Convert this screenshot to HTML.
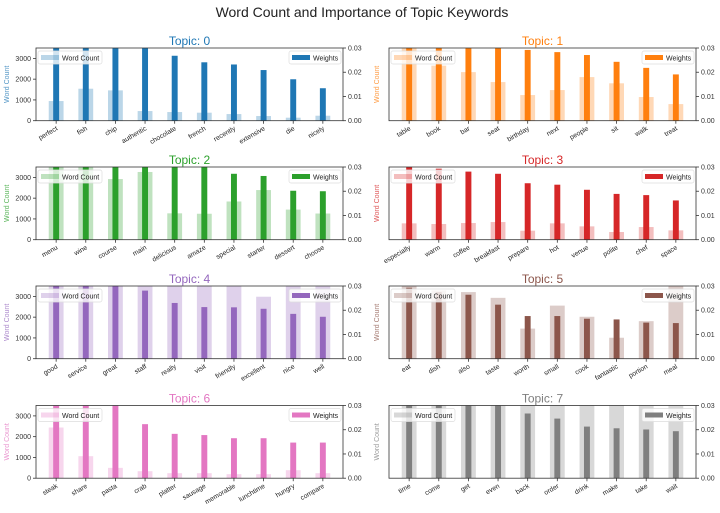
<!DOCTYPE html>
<html><head><meta charset="utf-8"><style>
body{margin:0;background:#fff;}
svg{display:block;font-family:"Liberation Sans","DejaVu Sans",sans-serif;}
</style></head><body>
<svg id="chart" width="720" height="513" viewBox="0 0 720 513" xmlns="http://www.w3.org/2000/svg">
<rect width="720" height="513" fill="#fff"/>
<text x="362" y="17" text-anchor="middle" font-size="14" fill="#222">Word Count and Importance of Topic Keywords</text>
</svg>
<script>
const topicColors = ["#1f77b4","#ff7f0e","#2ca02c","#d62728","#9467bd","#8c564b","#e377c2","#7f7f7f"];
const topicWords = [
 ["perfect","fish","chip","authentic","chocolate","french","recently","extensive","die","nicely"],
 ["table","book","bar","seat","birthday","next","people","sit","walk","treat"],
 ["menu","wine","course","main","delicious","amaze","special","starter","dessert","choose"],
 ["especially","warm","coffee","breakfast","prepare","hot","venue","polite","chef","space"],
 ["good","service","great","staff","really","visit","friendly","excellent","nice","well"],
 ["eat","dish","also","taste","worth","small","cook","fantastic","portion","meal"],
 ["steak","share","pasta","crab","platter","sausage","memorable","lunchtime","hungry","compare"],
 ["time","come","get","even","back","order","drink","make","take","wait"]
];
const wordCounts = [
 [947,1540,1460,465,417,385,320,225,145,240],
 [4200,2650,2340,1860,1235,1475,2100,1800,1140,800],
 [4500,4400,2920,3260,1270,1250,1840,2390,1450,1260],
 [787,755,803,851,434,787,642,370,610,450],
 [5000,4800,4500,4200,4000,3900,3800,2984,3700,3600],
 [4000,3288,3207,2930,1449,2556,2019,1009,1807,4500],
 [2440,1060,498,337,241,241,193,193,385,241],
 [6000,5500,5000,4800,4500,4200,4000,3900,3800,3700]
];
const weights = [
 [0.06,0.05,0.045,0.04,0.0268,0.0241,0.0232,0.0209,0.0171,0.0134],
 [0.05,0.045,0.04,0.035,0.0292,0.0283,0.0271,0.0243,0.0218,0.0191],
 [0.05,0.045,0.04,0.038,0.036,0.032,0.0272,0.0263,0.0202,0.0200],
 [0.0302,0.0293,0.0281,0.0272,0.0233,0.0227,0.0206,0.0189,0.0184,0.0162],
 [0.05,0.04,0.035,0.0281,0.0230,0.0213,0.0212,0.0206,0.0185,0.0173],
 [0.0293,0.0275,0.0264,0.0223,0.0176,0.0176,0.0165,0.0162,0.0149,0.0147],
 [0.05,0.04,0.035,0.0223,0.0183,0.0178,0.0165,0.0165,0.0147,0.0147],
 [0.05,0.045,0.04,0.035,0.0267,0.0246,0.0213,0.0206,0.0201,0.0194]
];
const countTicks = [0,1000,2000,3000];
const weightTicks = [0,0.01,0.02,0.03];
const weightTickLabels = ["0.00","0.01","0.02","0.03"];

const NS="http://www.w3.org/2000/svg";
const svg=document.getElementById('chart');
function mk(tag,attrs,parent){const e=document.createElementNS(NS,tag);for(const k in attrs)e.setAttribute(k,attrs[k]);(parent||svg).appendChild(e);return e;}
const defs=mk('defs',{});
const rowTops=[48,167,286,405.5];
const colLefts=[36,389];
const W=307,H=72.7;
const countMax=3500,weightMax=0.03;

for(let t=0;t<8;t++){
  const col=t%2,row=Math.floor(t/2);
  const L=colLefts[col],T=rowTops[row],c=topicColors[t];
  const g=mk('g',{});
  
  
  const cp=mk('clipPath',{id:'clip'+t},defs);
  mk('rect',{x:L,y:T,width:W,height:H},cp);
  const n=topicWords[t].length;
  const xs=i=>L+W*(i+0.68)/(n-1+1.36);
  const step=W/(n-1+1.36);
  const yC=v=>T+H-H*v/countMax;
  const yW=v=>T+H-H*v/weightMax;
  const bars=mk('g',{'clip-path':'url(#clip'+t+')'},g);
  for(let i=0;i<n;i++){
    const cx=xs(i);
    const y1=yC(wordCounts[t][i]);
    const b=mk('rect',{x:cx-step*0.25,y:y1,width:step*0.5,height:T+H-y1,fill:c,'fill-opacity':0.3},bars);
    
    
    const y2=yW(weights[t][i]);
    const w=mk('rect',{x:cx-step*0.1,y:y2,width:step*0.2,height:T+H-y2,fill:c},bars);
    
    
    const lbl=mk('text',{x:cx+2,y:T+H+9,'text-anchor':'end','font-size':6.8,fill:'#222',transform:`rotate(-30 ${cx+2} ${T+H+9})`},g);
    lbl.textContent=topicWords[t][i];
    
    
    mk('line',{x1:cx,x2:cx,y1:T+H,y2:T+H+3,stroke:'#333','stroke-width':0.8},g);
  }
  mk('rect',{x:L,y:T,width:W,height:H,fill:'none',stroke:'#333','stroke-width':0.8},g);
  if(col===0){
    countTicks.forEach(v=>{
      const y=yC(v);
      mk('line',{x1:L-3,x2:L,y1:y,y2:y,stroke:'#333','stroke-width':0.8},g);
      const tx=mk('text',{x:L-5,y:y+2.5,'text-anchor':'end','font-size':7,fill:'#333'},g);
      tx.textContent=v;
      
      
    });
  }
  weightTicks.forEach((v,k)=>{
    const y=yW(v);
    mk('line',{x1:L+W,x2:L+W+3,y1:y,y2:y,stroke:'#333','stroke-width':0.8},g);
    const tx=mk('text',{x:L+W+5,y:y+2.5,'font-size':7,fill:'#333'},g);
    tx.textContent=weightTickLabels[k];
    
    
  });
  const ylx=col===0?L-27:L-10;
  const yl=mk('text',{x:ylx,y:T+H/2,'text-anchor':'middle','font-size':7,fill:c,'fill-opacity':0.8,transform:`rotate(-90 ${ylx} ${T+H/2})`},g);
  yl.textContent='Word Count';
  
  
  const tt=mk('text',{x:L+W/2,y:T-3,'text-anchor':'middle','font-size':12,fill:c},g);
  tt.textContent='Topic: '+t;
  
  
  const lg1=mk('g',{},g);
  
  
  mk('rect',{x:L+2,y:T+3,width:64,height:13,rx:2,fill:'#fff','fill-opacity':0.8,stroke:'#ddd','stroke-width':0.7},lg1);
  mk('rect',{x:L+5,y:T+7,width:18,height:5,fill:c,'fill-opacity':0.3},lg1);
  const l1=mk('text',{x:L+26,y:T+12.3,'font-size':7,fill:'#222'},lg1);l1.textContent='Word Count';
  const lg2=mk('g',{},g);
  
  
  mk('rect',{x:L+W-54,y:T+3,width:52,height:13,rx:2,fill:'#fff','fill-opacity':0.8,stroke:'#ddd','stroke-width':0.7},lg2);
  mk('rect',{x:L+W-51,y:T+7,width:18,height:5,fill:c},lg2);
  const l2=mk('text',{x:L+W-30,y:T+12.3,'font-size':7,fill:'#222'},lg2);l2.textContent='Weights';
}
</script>
</body></html>
